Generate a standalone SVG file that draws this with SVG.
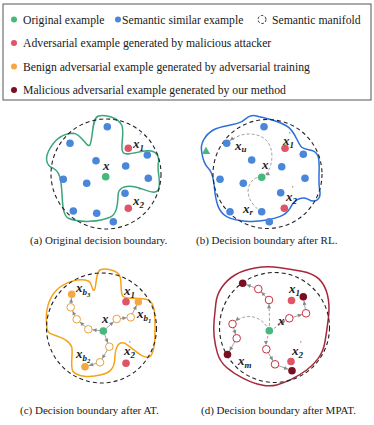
<svg xmlns="http://www.w3.org/2000/svg" width="374" height="425" viewBox="0 0 374 425">
<defs>
<style>
.lg{font-family:"Liberation Serif","Times New Roman",serif;font-size:11.7px;fill:#1a1a1a}
.cap{font-family:"Liberation Serif","Times New Roman",serif;font-size:11px;fill:#1a1a1a}
.lb{font-family:"Liberation Serif","Times New Roman",serif;font-style:italic;font-weight:bold;font-size:13px;fill:#222}
.sb{font-size:9px}
.ss{font-size:6.5px}
.pr{font-family:"Liberation Serif",serif;font-size:8px;fill:#555}
.man{fill:none;stroke:#222;stroke-width:1.1;stroke-dasharray:4 3}
.g{fill:#45b97c}
.b{fill:#4a86d9}
.r{fill:#e05468}
.o{fill:#f5a742}
.d{fill:#7b0f1f}
.oo{fill:#fff;stroke:#e8a33d;stroke-width:1}
.ro{fill:#fff;stroke:#c9303f;stroke-width:1}
.ln{fill:none;stroke:#999;stroke-width:0.9;marker-end:url(#ah)}
.dl{fill:none;stroke:#999;stroke-width:0.9;stroke-dasharray:3 2}
</style>
<marker id="ah" markerUnits="userSpaceOnUse" markerWidth="10" markerHeight="6" refX="8.3" refY="2" orient="auto-start-reverse" overflow="visible"><path d="M0,0 L4,2 L0,4 z" fill="#888"/></marker>
</defs>
<rect width="374" height="425" fill="#fff"/>

<g id="legend">
<rect x="3" y="4" width="368" height="96" fill="#fff" stroke="#555" stroke-width="1"/>
<circle cx="14" cy="19.5" r="3" class="g"/>
<text class="lg" x="23" y="23.5">Original example</text>
<circle cx="118" cy="19.5" r="3" class="b"/>
<text class="lg" x="122" y="23.5">Semantic similar example</text>
<circle cx="262" cy="19.5" r="4" fill="none" stroke="#222" stroke-width="1" stroke-dasharray="2.5 1.8"/>
<text class="lg" x="272" y="23.5">Semantic manifold</text>
<circle cx="14" cy="43" r="3" class="r"/>
<text class="lg" x="23" y="47">Adversarial example generated by malicious attacker</text>
<circle cx="14" cy="66.5" r="3" class="o"/>
<text class="lg" x="23" y="70.5">Benign adversarial example generated by adversarial training</text>
<circle cx="14" cy="90" r="3" class="d"/>
<text class="lg" x="23" y="94">Malicious adversarial example generated by our method</text>
</g>

<!-- Panel (a) -->
<g id="panel-a">
<path d="M90,145 C93.3,136.7 91.7,118.3 98.3,116 C106.7,114 118.3,118.3 121.7,125 C125,131.7 120,146.7 122.7,151.7 C125,156.7 136.7,151.7 146.7,150.7 C155,150 160,155 158.3,163.3 C156.7,171.7 161.7,181.7 158.3,190 C155,195 146.7,190 136.7,187.3 C126.7,185 120,186.7 118.3,193.3 C117.3,201.7 118.3,213.3 110,217.3 C100,221.7 80,223.3 68.3,218.3 C61.7,214 62.7,200 61.7,190 C61,180 60,171.7 53.3,168.3 C45,165 45,156.7 50,148.3 C55,140 63.3,133.3 73.3,133.3 C81.7,134 86.7,148.3 90,145 Z" fill="none" stroke="#3aa67a" stroke-width="1.5"/>
<circle cx="106" cy="174" r="55" class="man"/>
<g id="a-nodes">
<circle id="a-x" cx="105.7" cy="176.7" r="3.8" class="g"/>
<circle cx="107.3" cy="126.7" r="3.8" class="b"/>
<circle cx="70" cy="143.3" r="3.8" class="b"/>
<circle cx="96" cy="160.7" r="3.8" class="b"/>
<circle cx="125.7" cy="166" r="3.8" class="b"/>
<circle cx="147.3" cy="155" r="3.8" class="b"/>
<circle cx="63.3" cy="179.3" r="3.8" class="b"/>
<circle cx="86.7" cy="183.3" r="3.8" class="b"/>
<circle cx="148.3" cy="178.3" r="3.8" class="b"/>
<circle cx="125" cy="193.3" r="3.8" class="b"/>
<circle cx="73.3" cy="211" r="3.8" class="b"/>
<circle cx="96.7" cy="213.3" r="3.8" class="b"/>
<circle cx="113.3" cy="221.7" r="3.8" class="b"/>
<circle id="a-x1" cx="128.3" cy="148.3" r="3.8" class="r"/>
<circle id="a-x2" cx="128.3" cy="208.3" r="3.8" class="r"/>
</g>
<text class="lb" x="103" y="170">x</text>
<text class="lb" x="133" y="148">x<tspan class="sb" dy="3">1</tspan></text>
<text class="pr" x="139.5" y="139">'</text>
<text class="lb" x="133" y="205">x<tspan class="sb" dy="3">2</tspan></text>
<text class="pr" x="139" y="194">'</text>
<text class="cap" x="30" y="243.5">(a) Original decision boundary.</text>
</g>

<!-- Panel (b) -->
<g id="panel-b">
<path d="M201.7,151.7 C200,143.3 205,135 213.3,130 C221.7,125 233.3,126 241.7,121.7 C246.7,118.3 250,114 256.7,116 C265,118.3 276.7,120 286.7,126 C295,130.7 296.7,141.7 301.7,147.3 C306.7,151.7 315,147.3 318.3,156.7 C320.7,166.7 317.3,180 320,191.7 C320.7,200 315,203.3 308.3,199.3 C300,195 293.3,201.7 290,208.3 C285,216.7 275,218.3 266.7,220 C253.3,222.7 236.7,221.7 226.7,216.7 C218.3,211.7 216.7,203.3 215,193.3 C214,183.3 213.3,173.3 208.3,168.3 C203.3,163.3 202.3,156.7 201.7,151.7 Z" fill="none" stroke="#2d6fdc" stroke-width="1.5"/>
<circle cx="267.5" cy="174" r="54.5" class="man"/>
<g id="b-connectors">
<path class="dl" d="M261.7,177.3 C272,172 274,155 270,146 C266,137 258,134 248,134 C240,134 232,139 226.7,143.3" marker-start="url(#ah)" marker-end="url(#ah)"/>
<path class="dl" d="M261.7,211.7 C250,205 246,193 249,186 C252,179 256,177 261.7,177.3"/>
</g>
<g id="b-nodes">
<polygon id="b-tri" points="206,146.8 210.2,154 201.8,154" class="g"/>
<circle id="b-x" cx="261.7" cy="177.3" r="3.8" class="g"/>
<circle cx="264" cy="126.7" r="3.8" class="b"/>
<circle id="b-xu" cx="226.7" cy="143.3" r="3.8" class="b"/>
<circle cx="251.7" cy="160" r="3.8" class="b"/>
<circle cx="281.7" cy="166.7" r="3.8" class="b"/>
<circle cx="303.3" cy="154.3" r="3.8" class="b"/>
<circle cx="220" cy="179.3" r="3.8" class="b"/>
<circle cx="243.3" cy="183.3" r="3.8" class="b"/>
<circle cx="305" cy="178.3" r="3.8" class="b"/>
<circle cx="280.7" cy="192.7" r="3.8" class="b"/>
<circle cx="230" cy="211.7" r="3.8" class="b"/>
<circle id="b-xr" cx="261.7" cy="211.7" r="3.8" class="b"/>
<circle cx="269.3" cy="221.7" r="3.8" class="b"/>
<circle id="b-x1" cx="285" cy="148.3" r="3.8" class="r"/>
<circle id="b-x2" cx="284.3" cy="208.3" r="3.8" class="r"/>
</g>
<text class="lb" x="262" y="169">x</text>
<text class="lb" x="283" y="145">x<tspan class="sb" dy="3">1</tspan></text>
<text class="pr" x="289" y="138">'</text>
<text class="lb" x="286" y="201">x<tspan class="sb" dy="3">2</tspan></text>
<text class="pr" x="292" y="192">'</text>
<text class="lb" x="235" y="150">x<tspan class="sb" dy="2">u</tspan></text>
<text class="lb" x="243" y="213">x<tspan class="sb" dy="2">r</tspan></text>
<text class="cap" x="196" y="243.5">(b) Decision boundary after RL.</text>
</g>

<!-- Panel (c) -->
<g id="panel-c">
<path d="M46.7,325 C45,311.7 48.3,298.3 56.7,290 C65,281.7 80,277.7 88.3,281 C92.7,283.3 91.7,291 94,290.3 C96.7,289.3 95,273.3 100,270 C105,267.7 116,270 119.3,275 C122.7,281 119.3,293.3 123.3,296.7 C128.3,300 140,296.7 148.3,300 C155,303.3 155,315 155,325 C155,338.3 155,351.7 150,356.7 C143.3,360 133.3,348.3 125,343.3 C116.7,340 115,351.7 114.7,360 C114,370 108.3,373.3 100,375 C90,377.7 76.7,376.7 72.7,371 C70,365 73.3,353.3 71.7,346.7 C68.3,338.3 56.7,336.7 50,333.3 C46.7,331.7 46.7,328.3 46.7,325 Z" fill="none" stroke="#f5a31a" stroke-width="1.5"/>
<circle cx="101.5" cy="328" r="55" class="man"/>
<g id="c-connectors">
<line class="ln" x1="103.3" y1="331" x2="88.3" y2="329.3"/>
<line class="ln" x1="88.3" y1="329.3" x2="76.7" y2="319.3"/>
<line class="ln" x1="76.7" y1="319.3" x2="70.7" y2="307.3"/>
<line class="ln" x1="70.7" y1="307.3" x2="71.7" y2="294.3"/>
<line class="ln" x1="103.3" y1="331" x2="116.7" y2="319"/>
<line class="ln" x1="116.7" y1="319" x2="130.7" y2="317.3"/>
<line class="ln" x1="130.7" y1="317.3" x2="138.3" y2="301.7"/>
<line class="ln" x1="103.3" y1="331" x2="109.3" y2="346.7"/>
<line class="ln" x1="109.3" y1="346.7" x2="100" y2="362.3"/>
<line class="ln" x1="100" y1="362.3" x2="85" y2="366.7"/>
</g>
<g id="c-nodes">
<circle cx="88.3" cy="329.3" r="3.8" class="oo"/>
<circle cx="76.7" cy="319.3" r="3.8" class="oo"/>
<circle cx="70.7" cy="307.3" r="3.8" class="oo"/>
<circle cx="116.7" cy="319" r="3.8" class="oo"/>
<circle cx="130.7" cy="317.3" r="3.8" class="oo"/>
<circle cx="109.3" cy="346.7" r="3.8" class="oo"/>
<circle cx="100" cy="362.3" r="3.8" class="oo"/>
<circle id="c-x" cx="103.3" cy="331" r="3.8" class="g"/>
<circle id="c-xb3" cx="71.7" cy="294.3" r="3.8" class="o"/>
<circle id="c-xb1" cx="138.3" cy="301.7" r="3.8" class="o"/>
<circle id="c-xb2" cx="85" cy="366.7" r="3.8" class="o"/>
<circle id="c-x1" cx="126" cy="301.7" r="3.8" class="r"/>
<circle id="c-x2" cx="126" cy="363.3" r="3.8" class="r"/>
</g>
<text class="lb" x="102" y="323">x</text>
<text class="lb" x="76" y="292">x<tspan class="sb" dy="3">b</tspan><tspan class="ss" dy="2">3</tspan></text>
<text class="lb" x="124" y="295">x<tspan class="sb" dy="3">1</tspan></text>
<text class="lb" x="137" y="318">x<tspan class="sb" dy="3">b</tspan><tspan class="ss" dy="2">1</tspan></text>
<text class="lb" x="124" y="355">x<tspan class="sb" dy="3">2</tspan></text>
<text class="pr" x="129" y="347">'</text>
<text class="lb" x="76" y="358">x<tspan class="sb" dy="3">b</tspan><tspan class="ss" dy="2">2</tspan></text>
<text class="cap" x="20" y="413.5">(c) Decision boundary after AT.</text>
</g>

<!-- Panel (d) -->
<g id="panel-d">
<path d="M214.15,320 Q215,311.7 215.85,303.35 Q216.7,295 221.7,287.5 Q226.7,280 235,275 Q243.3,270 255,268 Q266.7,266 278.35,267.5 Q290,269 301.65,271.15 Q313.3,273.3 319.15,279.15 Q325,285 327.5,295 Q330,305 328.35,318.35 Q326.7,331.7 325,341.7 Q323.3,351.7 318.3,358.35 Q313.3,365 306.65,370 Q300,375 291.65,379.15 Q283.3,383.3 276.65,385 Q270,386.7 261.65,385 Q253.3,383.3 243.3,378.3 Q233.3,373.3 226.65,367.5 Q220,361.7 217.5,353.35 Q215,345 214.15,336.65 Q213.3,328.3 214.15,320 Z" fill="none" stroke="#a8283a" stroke-width="1.5"/>
<circle cx="274.5" cy="327.5" r="55" class="man"/>
<g id="d-connectors">
<path class="dl" d="M269.3,330.7 C270,322 269,312 269,300" marker-end="url(#ah)"/>
<path class="dl" d="M269.3,330.7 C276,328 283,322 289.3,318.3" marker-end="url(#ah)"/>
<path class="dl" d="M269.3,330.7 C262,316 246,311 232.5,324" marker-end="url(#ah)"/>
<path class="dl" d="M269.3,330.7 C267,338 266,344 266.3,349.3" marker-end="url(#ah)"/>
<line class="ln" x1="269" y1="300" x2="258.3" y2="289"/>
<line class="ln" x1="258.3" y1="289" x2="242.7" y2="283.3"/>
<line class="ln" x1="289.3" y1="318.3" x2="306" y2="313.3"/>
<line class="ln" x1="306" y1="313.3" x2="303.3" y2="296.7"/>
<line class="ln" x1="232.5" y1="324" x2="236.7" y2="338.3"/>
<line class="ln" x1="236.7" y1="338.3" x2="227.5" y2="354.5"/>
<line class="ln" x1="266.3" y1="349.3" x2="275" y2="364.3"/>
<line class="ln" x1="275" y1="364.3" x2="292" y2="370.7"/>
</g>
<g id="d-nodes">
<circle cx="269" cy="300" r="3.8" class="ro"/>
<circle cx="258.3" cy="289" r="3.8" class="ro"/>
<circle cx="289.3" cy="318.3" r="3.8" class="ro"/>
<circle cx="306" cy="313.3" r="3.8" class="ro"/>
<circle cx="232.5" cy="324" r="3.8" class="ro"/>
<circle cx="236.7" cy="338.3" r="3.8" class="ro"/>
<circle cx="266.3" cy="349.3" r="3.8" class="ro"/>
<circle cx="275" cy="364.3" r="3.8" class="ro"/>
<circle id="d-x" cx="269.3" cy="330.7" r="3.8" class="g"/>
<circle cx="242.7" cy="283.3" r="3.8" class="d"/>
<circle cx="303.3" cy="296.7" r="3.8" class="d"/>
<circle id="d-xm" cx="227.5" cy="354.5" r="3.8" class="d"/>
<circle cx="292" cy="370.7" r="3.8" class="d"/>
<circle id="d-x1" cx="291.5" cy="300.5" r="3.8" class="r"/>
<circle id="d-x2" cx="291" cy="361.5" r="3.8" class="r"/>
</g>
<text class="lb" x="278" y="325">x</text>
<text class="lb" x="289" y="293">x<tspan class="sb" dy="3">1</tspan></text>
<text class="lb" x="292" y="355">x<tspan class="sb" dy="3">2</tspan></text>
<text class="pr" x="300" y="347">'</text>
<text class="lb" x="238" y="365">x<tspan class="sb" dy="3">m</tspan></text>
<text class="cap" x="201" y="413.5">(d) Decision boundary after MPAT.</text>
</g>
</svg>
